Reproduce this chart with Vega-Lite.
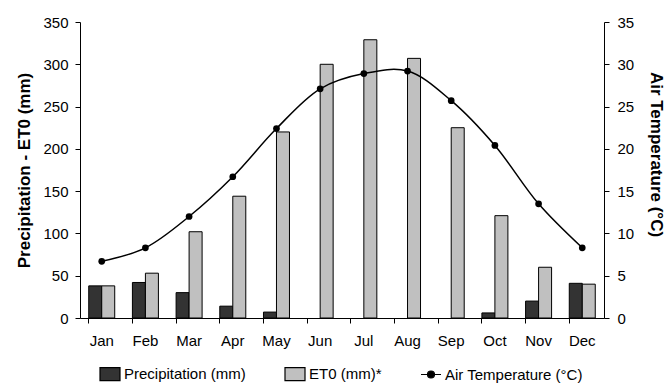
{
  "$schema": "https://vega.github.io/schema/vega-lite/v6.json",
  "autosize": "none",
  "width": 524,
  "height": 296,
  "padding": {"left": 80, "top": 22, "right": 66, "bottom": 65},
  "background": "white",
  "config": {
    "view": {"stroke": null},
    "font": "Liberation Sans",
    "axis": {
      "labelColor": "black",
      "labelFont": "Liberation Sans",
      "labelFontSize": 15,
      "titleFont": "Liberation Sans",
      "titleFontSize": 17,
      "titleFontWeight": "bold",
      "titleColor": "black",
      "domainColor": "black",
      "tickColor": "black",
      "tickSize": 5,
      "grid": false
    }
  },
  "data": {
    "values": [
      {"month": "Jan", "series": "Precipitation (mm)", "value": 38},
      {"month": "Feb", "series": "Precipitation (mm)", "value": 42},
      {"month": "Mar", "series": "Precipitation (mm)", "value": 30},
      {"month": "Apr", "series": "Precipitation (mm)", "value": 14},
      {"month": "May", "series": "Precipitation (mm)", "value": 7},
      {"month": "Jun", "series": "Precipitation (mm)", "value": 0},
      {"month": "Jul", "series": "Precipitation (mm)", "value": 0},
      {"month": "Aug", "series": "Precipitation (mm)", "value": 0},
      {"month": "Sep", "series": "Precipitation (mm)", "value": 0},
      {"month": "Oct", "series": "Precipitation (mm)", "value": 6},
      {"month": "Nov", "series": "Precipitation (mm)", "value": 20},
      {"month": "Dec", "series": "Precipitation (mm)", "value": 41},
      {"month": "Jan", "series": "ET0 (mm)*", "value": 38},
      {"month": "Feb", "series": "ET0 (mm)*", "value": 53},
      {"month": "Mar", "series": "ET0 (mm)*", "value": 102},
      {"month": "Apr", "series": "ET0 (mm)*", "value": 144},
      {"month": "May", "series": "ET0 (mm)*", "value": 220},
      {"month": "Jun", "series": "ET0 (mm)*", "value": 300},
      {"month": "Jul", "series": "ET0 (mm)*", "value": 329},
      {"month": "Aug", "series": "ET0 (mm)*", "value": 307},
      {"month": "Sep", "series": "ET0 (mm)*", "value": 225},
      {"month": "Oct", "series": "ET0 (mm)*", "value": 121},
      {"month": "Nov", "series": "ET0 (mm)*", "value": 60},
      {"month": "Dec", "series": "ET0 (mm)*", "value": 40},
      {"month": "Jan", "series": "Air Temperature (°C)", "value": 6.7},
      {"month": "Feb", "series": "Air Temperature (°C)", "value": 8.3},
      {"month": "Mar", "series": "Air Temperature (°C)", "value": 12.0},
      {"month": "Apr", "series": "Air Temperature (°C)", "value": 16.7},
      {"month": "May", "series": "Air Temperature (°C)", "value": 22.4},
      {"month": "Jun", "series": "Air Temperature (°C)", "value": 27.1},
      {"month": "Jul", "series": "Air Temperature (°C)", "value": 28.9},
      {"month": "Aug", "series": "Air Temperature (°C)", "value": 29.2},
      {"month": "Sep", "series": "Air Temperature (°C)", "value": 25.7},
      {"month": "Oct", "series": "Air Temperature (°C)", "value": 20.4},
      {"month": "Nov", "series": "Air Temperature (°C)", "value": 13.5},
      {"month": "Dec", "series": "Air Temperature (°C)", "value": 8.3}
    ]
  },
  "encoding": {
    "x": {
      "field": "month",
      "type": "nominal",
      "sort": ["Jan", "Feb", "Mar", "Apr", "May", "Jun", "Jul", "Aug", "Sep", "Oct", "Nov", "Dec"],
      "scale": {"paddingInner": 0.405, "paddingOuter": 0.2},
      "axis": {"title": null, "labelAngle": 0, "bandPosition": 0, "labelPadding": 10}
    }
  },
  "layer": [
    {
      "transform": [
        {"filter": "datum.series !== 'Air Temperature (°C)'"},
        {"filter": "datum.value > 0"}
      ],
      "mark": {"type": "bar", "stroke": "black", "strokeWidth": 1},
      "encoding": {
        "xOffset": {
          "field": "series",
          "type": "nominal",
          "sort": ["Precipitation (mm)", "ET0 (mm)*"],
          "scale": {"domain": ["Precipitation (mm)", "ET0 (mm)*"], "paddingInner": 0, "paddingOuter": 0}
        },
        "y": {
          "field": "value",
          "type": "quantitative",
          "scale": {"domain": [0, 350]},
          "axis": {
            "title": "Precipitation - ET0 (mm)",
            "values": [0, 50, 100, 150, 200, 250, 300, 350],
            "labelPadding": 7,
            "titlePadding": 9
          }
        },
        "color": {
          "field": "series",
          "type": "nominal",
          "scale": {
            "domain": ["Precipitation (mm)", "ET0 (mm)*", "Air Temperature (°C)"],
            "range": ["#333333", "#c0c0c0", "#000000"]
          },
          "legend": {
            "orient": "none",
            "legendX": 19,
            "legendY": 341,
            "direction": "horizontal",
            "title": null,
            "labelFont": "Liberation Sans",
            "labelFontSize": 15,
            "labelColor": "black",
            "labelOffset": 3,
            "symbolSize": 400,
            "columnPadding": 36,
            "symbolType": {"expr": "datum.value === 'Air Temperature (°C)' ? 'M-1,0H1M-0.35,0A0.35,0.35 0 1,1 0.35,0A0.35,0.35 0 1,1 -0.35,0Z' : 'M-1,-0.65H1V0.65H-1Z'"},
            "symbolStrokeColor": "black",
            "symbolStrokeWidth": 1.2,
            "symbolOpacity": 1
          }
        }
      }
    },
    {
      "transform": [{"filter": "datum.series === 'Air Temperature (°C)'"}],
      "mark": {
        "type": "line",
        "color": "black",
        "interpolate": "catmull-rom",
        "strokeWidth": 1.5,
        "point": {"filled": true, "size": 45, "opacity": 1, "color": "black"}
      },
      "encoding": {
        "y": {
          "field": "value",
          "type": "quantitative",
          "scale": {"domain": [0, 35]},
          "axis": {
            "orient": "right",
            "title": "Air Temperature (°C)",
            "values": [0, 5, 10, 15, 20, 25, 30, 35],
            "labelPadding": 8,
            "titlePadding": 13,
            "titleY": 132
          }
        }
      }
    }
  ],
  "resolve": {"scale": {"y": "independent"}}
}
